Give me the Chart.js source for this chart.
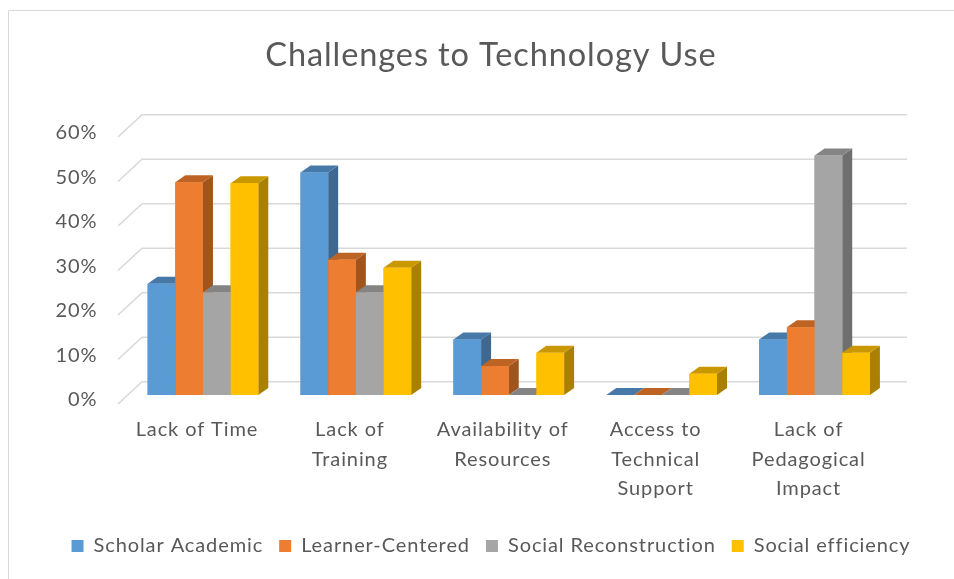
<!DOCTYPE html>
<html>
<head>
<meta charset="utf-8">
<script src="https://cdn.jsdelivr.net/npm/chart.js@4.4.1/dist/chart.umd.min.js"></script>
<style>
  html, body { margin: 0; padding: 0; background: #ffffff; }
  #wrap { width: 954px; height: 579px; }
</style>
</head>
<body>
<div id="wrap"><canvas id="chart" width="954" height="579"></canvas></div>
<script>
// datos (porcentajes)
const categories = [
    'Lack of Time',
    ['Lack of', 'Training'],
    ['Availability of', 'Resources'],
    ['Access to', 'Technical', 'Support'],
    ['Lack of', 'Pedagogical', 'Impact']
];
const scholarAcademic = [25, 50, 12.5, 0, 12.5];
const learnerCentered = [47.8, 30.4, 6.5, 0, 15.2];
const socialReconstruction = [23.1, 23.1, 0, 0, 53.8];
const socialEfficiency = [47.6, 28.6, 9.5, 4.8, 9.5];
const yTicks = [0, 10, 20, 30, 40, 50, 60];

const seriesNames = ['Scholar Academic', 'Learner-Centered', 'Social Reconstruction', 'Social efficiency'];
const seriesData = [scholarAcademic, learnerCentered, socialReconstruction, socialEfficiency];

// colores: frente, tapa, lateral
const frontColors = ['#5b9bd5', '#ed7d31', '#a5a5a5', '#ffc000'];
const topColors = ['#4678a8', '#bd6424', '#848484', '#c99700'];
const sideColors = ['#3e6890', '#a2541d', '#6f6f6f', '#a98000'];

const FONT = "Lato, 'Open Sans', sans-serif";
const TEXT = '#595959';
const DX = 10, DY = 7;

// letra un poco mas ancha, como en el original
const spacing = {
    id: 'spacing',
    beforeLayout(chart) { chart.ctx.letterSpacing = '0.9px'; },
    beforeDraw(chart) { chart.ctx.letterSpacing = '0.9px'; }
};

// borde del marco del grafico
const frame = {
    id: 'frame',
    beforeDraw(chart) {
        const ctx = chart.ctx;
        ctx.save();
        ctx.fillStyle = '#ffffff';
        ctx.fillRect(0, 0, chart.width, chart.height);
        ctx.strokeStyle = '#d9d9d9';
        ctx.lineWidth = 1;
        ctx.beginPath();
        ctx.moveTo(8.5, chart.height);
        ctx.lineTo(8.5, 10.5);
        ctx.lineTo(chart.width, 10.5);
        ctx.stroke();
        ctx.restore();
    }
};

// pared trasera y barras en 3D
const bars3d = {
    id: 'bars3d',
    beforeDatasetsDraw(chart) {
        const {ctx, chartArea: a, scales: {y}} = chart;
        ctx.save();
        ctx.strokeStyle = '#d9d9d9';
        ctx.lineWidth = 1.6;
        yTicks.forEach(v => {
            const p = y.getPixelForValue(v);
            ctx.beginPath();
            ctx.moveTo(a.left - 8.5, p + 9);
            ctx.lineTo(a.left + 15.5, p - 13.3);
            ctx.lineTo(a.right + 16, p - 13.3);
            ctx.stroke();
        });
        ctx.restore();
    },
    afterDatasetsDraw(chart) {
        const ctx = chart.ctx;
        const bars = [];
        chart.data.datasets.forEach((ds, i) => {
            chart.getDatasetMeta(i).data.forEach(el => bars.push({el, i}));
        });
        bars.sort((p, q) => p.el.x - q.el.x);
        ctx.save();
        bars.forEach(({el, i}) => {
            const {x, y, base, width} = el.getProps(['x', 'y', 'base', 'width'], true);
            const l = x - width / 2, r = x + width / 2;
            // lateral
            ctx.fillStyle = sideColors[i];
            ctx.beginPath();
            ctx.moveTo(r, y);
            ctx.lineTo(r + DX, y - DY);
            ctx.lineTo(r + DX, base - DY);
            ctx.lineTo(r, base);
            ctx.closePath();
            ctx.fill();
            // tapa
            ctx.fillStyle = topColors[i];
            ctx.beginPath();
            ctx.moveTo(l, y);
            ctx.lineTo(l + DX, y - DY);
            ctx.lineTo(r + DX, y - DY);
            ctx.lineTo(r, y);
            ctx.closePath();
            ctx.fill();
            // frente
            ctx.fillStyle = frontColors[i];
            ctx.fillRect(l, y, width, base - y);
        });
        ctx.restore();
    }
};

const ctx = document.getElementById('chart').getContext('2d');
new Chart(ctx, {
    type: 'bar',
    data: {
        labels: categories,
        datasets: seriesNames.map((name, i) => ({
            label: name,
            data: seriesData[i],
            backgroundColor: frontColors[i],
            borderWidth: 0,
            categoryPercentage: 0.724,
            barPercentage: 1.0
        }))
    },
    options: {
        responsive: false,
        animation: false,
        layout: {
            padding: {left: 28, right: 0, top: 0, bottom: 13}
        },
        scales: {
            x: {
                grid: {display: false, drawTicks: false},
                border: {display: false},
                ticks: {
                    color: TEXT,
                    padding: 20,
                    labelOffset: -6,
                    maxRotation: 0,
                    autoSkip: false,
                    font: {family: FONT, size: 20, lineHeight: 1.48}
                },
                afterFit: s => { s.height = 125; }
            },
            y: {
                min: 0,
                max: 60,
                grid: {display: false, drawTicks: false},
                border: {display: false},
                ticks: {
                    stepSize: 10,
                    color: TEXT,
                    padding: 29,
                    labelOffset: 5,
                    font: {family: FONT, size: 20},
                    callback: v => v + '%'
                },
                afterFit: s => { s.width = 126.5 - 28; }
            },
            // eje vacio a la derecha, solo reserva el margen
            margen: {
                type: 'linear',
                position: 'right',
                grid: {display: false, drawTicks: false},
                border: {display: false},
                ticks: {display: false},
                afterFit: s => { s.width = 63; }
            }
        },
        plugins: {
            title: {
                display: true,
                text: 'Challenges to Technology Use',
                color: TEXT,
                font: {family: FONT, size: 32.5, weight: 'normal', lineHeight: 1.2},
                padding: {top: 36, bottom: 53}
            },
            legend: {
                position: 'bottom',
                labels: {
                    color: TEXT,
                    boxWidth: 12,
                    boxHeight: 12,
                    padding: 16,
                    font: {family: FONT, size: 20}
                }
            },
            tooltip: {enabled: false}
        }
    },
    plugins: [spacing, frame, bars3d]
});
</script>
</body>
</html>
